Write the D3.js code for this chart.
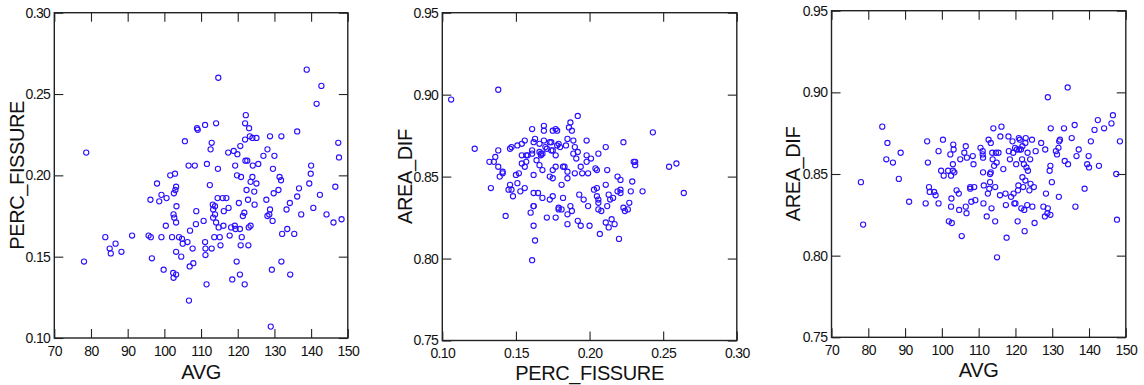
<!DOCTYPE html>
<html>
<head>
<meta charset="utf-8">
<script src="https://cdn.jsdelivr.net/npm/d3@7"></script>
<style>
  body { margin: 0; background: #fff; }
  svg text { font-family: "Liberation Sans", Arial, sans-serif; fill: #111; }
</style>
</head>
<body>
<div id="chart"></div>
<script>
// axis titles and ticks
const avgTicks = [70, 80, 90, 100, 110, 120, 130, 140, 150];
const percTicks = [0.10, 0.15, 0.20, 0.25, 0.30];
const areaTicks = [0.75, 0.80, 0.85, 0.90, 0.95];

// panel 1 : AVG vs PERC_FISSURE
const avgVsPerc = [
  [78.1,0.147],[78.7,0.214],[83.9,0.162],[85.1,0.155],[85.4,0.152],[86.7,0.158],[88.3,0.153],[91.2,0.163],
  [95.7,0.163],[96.2,0.185],[96.3,0.162],[96.6,0.149],[98.0,0.195],[98.6,0.184],[99.2,0.188],[99.2,0.162],
  [99.8,0.142],[100.4,0.169],[100.6,0.186],[101.6,0.200],[102.1,0.162],[102.4,0.140],[102.5,0.137],[102.5,0.176],
  [102.6,0.189],[102.9,0.201],[103.0,0.191],[103.2,0.193],[103.2,0.139],[103.2,0.153],[103.3,0.181],[102.7,0.174],
  [103.2,0.171],[104.0,0.162],[104.6,0.150],[104.8,0.161],[105.0,0.158],[105.6,0.221],[106.3,0.159],[106.6,0.206],
  [106.7,0.123],[106.9,0.144],[107.0,0.166],[107.7,0.155],[107.9,0.146],[108.3,0.206],[108.6,0.170],[108.7,0.178],
  [108.9,0.229],[109.1,0.228],[110.7,0.172],[111.1,0.231],[111.1,0.159],[111.2,0.155],[111.2,0.151],[111.5,0.133],
  [111.6,0.207],[112.4,0.194],[112.6,0.216],[112.9,0.220],[112.9,0.155],[113.2,0.182],[113.3,0.179],[113.3,0.174],
  [113.6,0.162],[113.8,0.181],[113.8,0.176],[114.1,0.232],[114.1,0.171],[114.6,0.204],[114.7,0.260],[114.5,0.186],
  [114.8,0.168],[115.1,0.162],[115.3,0.157],[115.9,0.186],[116.1,0.169],[116.2,0.178],[116.9,0.186],[117.4,0.214],
  [117.5,0.180],[117.8,0.163],[118.2,0.168],[118.5,0.136],[118.9,0.215],[119.2,0.169],[119.3,0.206],[119.4,0.167],
  [119.7,0.147],[119.8,0.200],[119.9,0.213],[120.3,0.183],[120.6,0.139],[120.7,0.218],[120.6,0.167],[120.8,0.157],
  [120.9,0.199],[121.1,0.162],[121.4,0.175],[121.8,0.177],[121.9,0.133],[122.0,0.232],[122.0,0.222],[122.1,0.209],
  [122.2,0.237],[122.4,0.191],[122.6,0.209],[122.8,0.185],[122.9,0.157],[123.1,0.229],[123.0,0.168],[123.3,0.224],
  [123.5,0.169],[123.5,0.196],[124.0,0.199],[124.0,0.223],[124.1,0.206],[124.5,0.190],[124.6,0.182],[125.1,0.223],
  [125.1,0.195],[125.6,0.207],[127.0,0.212],[127.8,0.185],[128.1,0.216],[128.1,0.175],[128.6,0.176],[128.8,0.179],
  [128.8,0.224],[129.0,0.107],[129.3,0.142],[129.5,0.172],[129.6,0.204],[129.8,0.189],[130.0,0.212],[131.1,0.191],
  [131.4,0.199],[131.8,0.197],[131.9,0.224],[131.9,0.147],[132.1,0.164],[133.3,0.179],[133.5,0.167],[134.2,0.183],
  [134.3,0.139],[135.4,0.164],[136.2,0.187],[136.2,0.227],[136.7,0.192],[137.3,0.176],[138.8,0.265],[139.5,0.195],
  [139.9,0.201],[140.0,0.206],[140.6,0.180],[141.5,0.244],[142.4,0.188],[142.8,0.255],[144.2,0.176],[146.1,0.171],
  [146.6,0.193],[147.4,0.220],[147.6,0.211],[148.3,0.173]
];

// panel 2 : PERC_FISSURE vs AREA_DIF
const percVsArea = [
  [0.106,0.897],[0.138,0.903],[0.122,0.867],[0.132,0.859],[0.133,0.843],[0.135,0.859],[0.136,0.862],[0.138,0.866],
  [0.138,0.856],[0.139,0.850],[0.141,0.852],[0.141,0.853],[0.143,0.826],[0.145,0.842],[0.146,0.845],[0.146,0.867],
  [0.147,0.868],[0.147,0.842],[0.148,0.838],[0.150,0.851],[0.151,0.869],[0.151,0.846],[0.152,0.852],[0.153,0.841],
  [0.154,0.858],[0.154,0.863],[0.154,0.870],[0.156,0.872],[0.156,0.843],[0.156,0.856],[0.157,0.863],[0.157,0.859],
  [0.158,0.863],[0.160,0.828],[0.161,0.799],[0.161,0.879],[0.161,0.864],[0.161,0.866],[0.162,0.851],[0.162,0.840],
  [0.162,0.820],[0.162,0.832],[0.163,0.811],[0.162,0.832],[0.162,0.871],[0.163,0.873],[0.164,0.860],[0.165,0.840],
  [0.166,0.865],[0.166,0.857],[0.166,0.870],[0.167,0.864],[0.167,0.863],[0.168,0.837],[0.168,0.854],[0.168,0.864],
  [0.169,0.872],[0.169,0.881],[0.169,0.878],[0.170,0.868],[0.171,0.825],[0.171,0.867],[0.173,0.836],[0.173,0.871],
  [0.173,0.850],[0.174,0.871],[0.174,0.866],[0.175,0.854],[0.175,0.838],[0.175,0.849],[0.175,0.878],[0.175,0.866],
  [0.177,0.879],[0.177,0.856],[0.177,0.825],[0.177,0.863],[0.178,0.878],[0.178,0.869],[0.179,0.831],[0.179,0.830],
  [0.179,0.870],[0.180,0.868],[0.181,0.830],[0.181,0.845],[0.182,0.856],[0.182,0.837],[0.183,0.856],[0.184,0.869],
  [0.185,0.853],[0.185,0.827],[0.185,0.821],[0.185,0.873],[0.185,0.849],[0.186,0.880],[0.187,0.883],[0.187,0.832],
  [0.188,0.829],[0.188,0.878],[0.189,0.872],[0.189,0.864],[0.190,0.852],[0.190,0.868],[0.191,0.861],[0.192,0.887],
  [0.192,0.865],[0.192,0.823],[0.193,0.839],[0.194,0.820],[0.194,0.856],[0.195,0.852],[0.196,0.836],[0.198,0.872],
  [0.198,0.863],[0.198,0.859],[0.199,0.852],[0.199,0.832],[0.200,0.820],[0.201,0.861],[0.203,0.842],[0.204,0.855],
  [0.205,0.838],[0.205,0.843],[0.205,0.854],[0.206,0.836],[0.206,0.864],[0.206,0.834],[0.206,0.830],[0.207,0.815],
  [0.208,0.829],[0.211,0.822],[0.211,0.845],[0.211,0.868],[0.212,0.854],[0.212,0.832],[0.213,0.839],[0.213,0.819],
  [0.214,0.836],[0.215,0.824],[0.216,0.837],[0.217,0.821],[0.219,0.841],[0.219,0.850],[0.220,0.812],[0.221,0.848],
  [0.221,0.842],[0.221,0.840],[0.223,0.871],[0.223,0.831],[0.224,0.829],[0.226,0.830],[0.227,0.834],[0.228,0.841],
  [0.229,0.847],[0.230,0.859],[0.231,0.859],[0.231,0.857],[0.236,0.841],[0.243,0.877],[0.254,0.856],[0.259,0.858],
  [0.264,0.840]
];

// panel 3 : AVG vs AREA_DIF
const avgVsArea = [
  [78.0,0.845],[78.6,0.819],[83.8,0.879],[84.9,0.859],[85.2,0.869],[86.7,0.857],[88.3,0.847],[88.8,0.863],
  [91.1,0.833],[95.6,0.832],[96.0,0.870],[96.2,0.857],[96.5,0.842],[96.7,0.839],[97.9,0.839],[98.3,0.837],
  [99.1,0.864],[99.1,0.832],[99.8,0.852],[100.3,0.871],[100.5,0.849],[101.7,0.852],[101.9,0.821],[102.3,0.862],
  [102.5,0.849],[102.5,0.830],[102.7,0.820],[102.6,0.835],[103.0,0.852],[103.0,0.856],[103.1,0.868],[103.2,0.865],
  [103.4,0.851],[104.0,0.840],[104.6,0.838],[104.7,0.828],[105.0,0.859],[105.4,0.812],[106.1,0.863],[106.5,0.867],
  [106.5,0.830],[106.7,0.826],[106.8,0.860],[107.7,0.842],[107.7,0.841],[108.0,0.833],[108.4,0.861],[108.6,0.856],
  [108.8,0.842],[109.1,0.834],[110.5,0.866],[111.1,0.864],[111.1,0.862],[111.2,0.860],[111.2,0.851],[111.3,0.832],
  [111.4,0.843],[112.2,0.824],[112.5,0.838],[112.7,0.871],[112.9,0.841],[113.1,0.845],[113.3,0.869],[113.1,0.850],
  [113.3,0.851],[113.5,0.829],[113.7,0.863],[113.8,0.859],[114.0,0.878],[114.2,0.855],[114.5,0.821],[114.5,0.842],
  [114.7,0.863],[114.9,0.857],[115.0,0.799],[115.4,0.863],[115.8,0.837],[115.9,0.873],[116.2,0.879],[116.7,0.853],
  [117.3,0.838],[117.4,0.831],[117.6,0.811],[118.1,0.873],[118.2,0.864],[118.5,0.859],[118.8,0.836],[119.2,0.870],
  [119.4,0.863],[119.5,0.838],[119.7,0.832],[119.9,0.866],[120.0,0.832],[120.2,0.856],[120.4,0.865],[120.6,0.821],
  [120.7,0.840],[120.8,0.843],[120.9,0.872],[121.0,0.865],[121.2,0.871],[121.5,0.865],[121.6,0.829],[121.8,0.859],
  [121.9,0.867],[121.9,0.848],[122.1,0.842],[122.3,0.856],[122.4,0.828],[122.5,0.815],[122.7,0.846],[122.7,0.869],
  [122.8,0.872],[123.0,0.854],[123.2,0.831],[123.3,0.863],[123.4,0.852],[123.8,0.840],[124.0,0.859],[124.1,0.844],
  [124.6,0.830],[124.5,0.871],[125.0,0.842],[125.2,0.820],[125.5,0.864],[127.0,0.869],[127.6,0.830],[128.0,0.824],
  [128.1,0.865],[128.3,0.838],[128.7,0.826],[128.8,0.829],[128.8,0.897],[129.3,0.852],[129.5,0.855],[129.5,0.825],
  [129.6,0.878],[129.9,0.845],[131.0,0.864],[131.3,0.862],[131.7,0.866],[131.8,0.836],[131.9,0.870],[132.1,0.871],
  [133.2,0.878],[133.4,0.858],[134.2,0.903],[134.3,0.856],[135.3,0.872],[136.1,0.880],[136.3,0.830],[136.6,0.861],
  [137.2,0.865],[138.8,0.841],[139.5,0.856],[139.9,0.861],[140.0,0.854],[140.5,0.870],[141.5,0.877],[142.4,0.883],
  [142.7,0.855],[144.1,0.878],[146.1,0.881],[146.5,0.886],[147.4,0.850],[147.6,0.822],[148.4,0.870]
];

const W = 1144, H = 385;
const markColor = "#2a10ff";

const svg = d3.select("#chart").append("svg")
  .attr("width", W)
  .attr("height", H);

// one entry per panel: plot box in page pixels
const panels = [
  { data: avgVsPerc, xTicks: avgTicks, yTicks: percTicks, xFmt: d3.format("d"), yFmt: d3.format(".2f"),
    xLabel: "AVG", yLabel: "PERC_FISSURE", left: 54.3, right: 347.8, top: 12.7, bottom: 338,
    xTitleY: 379, yTitleX: 24 },
  { data: percVsArea, xTicks: percTicks, yTicks: areaTicks, xFmt: d3.format(".2f"), yFmt: d3.format(".2f"),
    xLabel: "PERC_FISSURE", yLabel: "AREA_DIF", left: 442.3, right: 736.8, top: 12.7, bottom: 340.5,
    xTitleY: 380, yTitleX: 412 },
  { data: avgVsArea, xTicks: avgTicks, yTicks: areaTicks, xFmt: d3.format("d"), yFmt: d3.format(".2f"),
    xLabel: "AVG", yLabel: "AREA_DIF", left: 831.5, right: 1125.8, top: 10.7, bottom: 337.3,
    xTitleY: 377, yTitleX: 800 }
];

panels.forEach((p) => {
  const x = d3.scaleLinear()
    .domain(d3.extent(p.xTicks))
    .range([p.left, p.right]);
  const y = d3.scaleLinear()
    .domain(d3.extent(p.yTicks))
    .range([p.bottom, p.top]);

  const g = svg.append("g");

  // ticks on all four sides, pointing inward
  const tick = 9;
  const bottomAx = g.append("g")
    .attr("transform", "translate(0," + p.bottom + ")")
    .call(d3.axisBottom(x).tickValues(p.xTicks).tickFormat(p.xFmt).tickSize(-tick).tickPadding(8));
  const leftAx = g.append("g")
    .attr("transform", "translate(" + p.left + ",0)")
    .call(d3.axisLeft(y).tickValues(p.yTicks).tickFormat(p.yFmt).tickSize(-tick).tickPadding(4));
  const topAx = g.append("g")
    .attr("transform", "translate(0," + p.top + ")")
    .call(d3.axisTop(x).tickValues(p.xTicks).tickFormat("").tickSize(-tick));
  const rightAx = g.append("g")
    .attr("transform", "translate(" + p.right + ",0)")
    .call(d3.axisRight(y).tickValues(p.yTicks).tickFormat("").tickSize(-tick));

  [bottomAx, leftAx, topAx, rightAx].forEach((a) => {
    a.select(".domain").remove();
    a.selectAll(".tick line").attr("stroke", "#222").attr("stroke-width", 1.1);
    a.selectAll(".tick text")
      .style("font-size", "14px")
      .style("letter-spacing", "-0.6px")
      .attr("fill", "#111");
  });

  // frame
  g.append("rect")
    .attr("x", p.left)
    .attr("y", p.top)
    .attr("width", p.right - p.left)
    .attr("height", p.bottom - p.top)
    .attr("fill", "none")
    .attr("stroke", "#222")
    .attr("stroke-width", 1.4);

  // points
  g.selectAll("circle")
    .data(p.data)
    .enter()
    .append("circle")
    .attr("cx", (d) => x(d[0]))
    .attr("cy", (d) => y(d[1]))
    .attr("r", 2.6)
    .attr("fill", "none")
    .attr("stroke", markColor)
    .attr("stroke-width", 1.1);

  // axis titles
  g.append("text")
    .attr("x", (p.left + p.right) / 2)
    .attr("y", p.xTitleY)
    .attr("text-anchor", "middle")
    .style("font-size", "20px")
    .style("letter-spacing", "-0.4px")
    .text(p.xLabel);

  g.append("text")
    .attr("transform", "translate(" + p.yTitleX + "," + (p.top + p.bottom) / 2 + ") rotate(-90)")
    .attr("text-anchor", "middle")
    .style("font-size", "20px")
    .style("letter-spacing", "-0.4px")
    .text(p.yLabel);
});
</script>
</body>
</html>
